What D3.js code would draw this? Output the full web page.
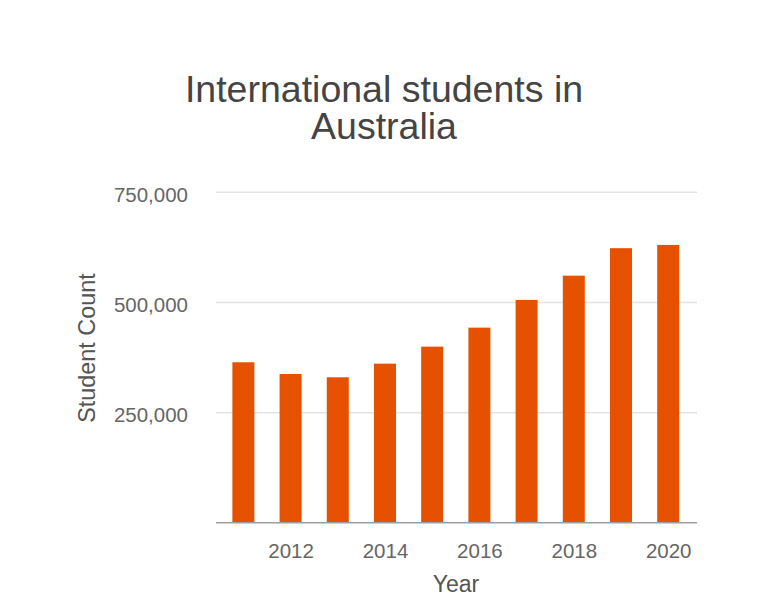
<!DOCTYPE html>
<html>
<head>
<meta charset="utf-8">
<script src="https://cdn.jsdelivr.net/npm/d3@7/dist/d3.min.js"></script>
<style>
  html, body { margin: 0; padding: 0; background: #fff; }
  svg { display: block; font-family: "Liberation Sans", Arial, sans-serif; }
</style>
</head>
<body>
<svg id="chart" width="768" height="609"></svg>
<script>
const years = [2011, 2012, 2013, 2014, 2015, 2016, 2017, 2018, 2019, 2020];
const students = [363500, 337000, 329500, 360400, 398900, 442000, 504800, 559800, 622000, 629400];
const xTicks = [2012, 2014, 2016, 2018, 2020];
const yTicks = [250000, 500000, 750000];
const titleLines = ["International students in", "Australia"];

const svg = d3.select("#chart");
const plotL = 216, plotR = 697, plotT = 191.7, plotB = 522.7;

const x = d3.scaleLinear().domain([2010.42, 2020.61]).range([plotL, plotR]);
const y = d3.scaleLinear().domain([0, 750000]).range([plotB, plotT]);
const barW = 22;

// gridlines
const yAxis = d3.axisLeft(y).tickValues(yTicks).tickSize(-(plotR - plotL)).tickFormat(d3.format(","));
const gy = svg.append("g").attr("transform", `translate(${plotL},0)`).call(yAxis);
gy.select(".domain").remove();
gy.selectAll(".tick line").attr("stroke", "#e3e3e3").attr("stroke-width", 1.5);
gy.selectAll(".tick text").attr("x", -28).attr("dy", "0.46em").attr("fill", "#666").attr("font-size", 20.5);

// bars
svg.append("g").selectAll("rect").data(years).join("rect")
  .attr("x", (d) => x(d) - barW / 2)
  .attr("width", barW)
  .attr("y", (d, i) => y(students[i]))
  .attr("height", (d, i) => y(0) - y(students[i]))
  .attr("fill", "#e65100");

// x axis
const xAxis = d3.axisBottom(x).tickValues(xTicks).tickSize(0).tickFormat(d3.format("d"));
const gx = svg.append("g").attr("transform", `translate(0,${plotB})`).call(xAxis);
gx.select(".domain").attr("stroke", "#9e9e9e").attr("stroke-width", 1.5)
  .attr("d", `M${plotL},0H${plotR}`);
gx.selectAll(".tick text").attr("fill", "#666").attr("font-size", 20.5).attr("y", 21).attr("dy", "0.71em");

// title
svg.append("text").attr("text-anchor", "middle").attr("fill", "#444").attr("font-size", 37.5)
  .selectAll("tspan").data(titleLines).join("tspan")
  .attr("x", 384).attr("y", (d, i) => 101.5 + i * 37.5).text((d) => d);

// axis titles
svg.append("text").attr("x", 456).attr("y", 592).attr("text-anchor", "middle")
  .attr("fill", "#555").attr("font-size", 23).text("Year");
svg.append("text").attr("transform", "translate(95,348) rotate(-90)").attr("text-anchor", "middle")
  .attr("fill", "#555").attr("font-size", 23.4).text("Student Count");
</script>
</body>
</html>
